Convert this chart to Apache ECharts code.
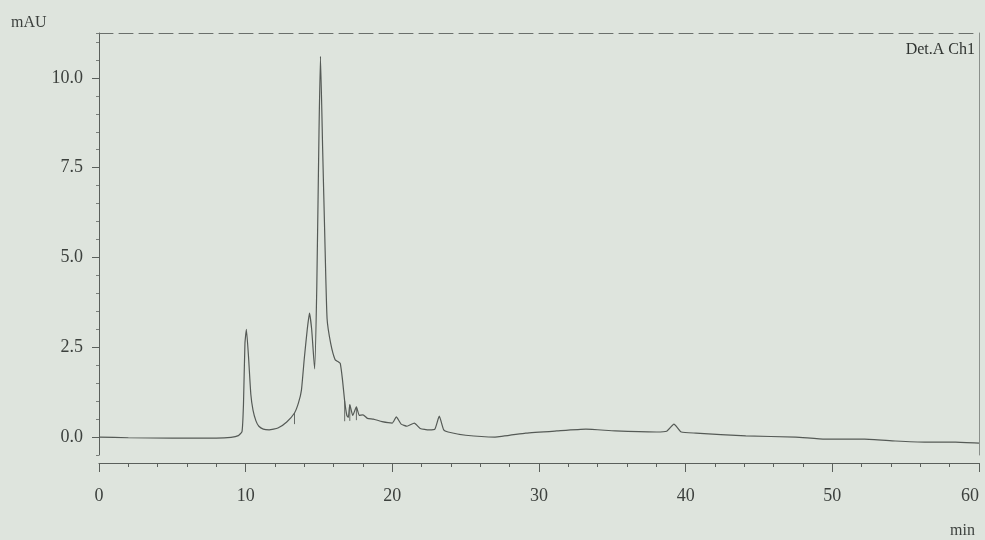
<!DOCTYPE html>
<html>
<head>
<meta charset="utf-8">
<script src="https://cdn.jsdelivr.net/npm/echarts@6/dist/echarts.min.js"></script>
<style>
html,body{margin:0;padding:0;background:#dee4dd;}
#chart{width:985px;height:540px;}
</style>
</head>
<body>
<div id="chart"></div>
<script>
// Retention time (min) and detector signal (mAU)
const times = [0, 2, 5, 8, 9.0, 9.5, 9.75, 9.85, 9.95, 10.05, 10.2, 10.35, 10.5, 10.7, 10.9, 11.2, 11.6, 12.2, 12.8, 13.33, 13.6, 13.8, 14.0, 14.2, 14.35, 14.5, 14.7, 14.85, 15.0, 15.1, 15.25, 15.4, 15.55, 15.8, 16.1, 16.3, 16.45, 16.6, 16.75, 16.9, 17.0, 17.1, 17.3, 17.55, 17.75, 18.0, 18.3, 18.7, 19.3, 20.0, 20.27, 20.6, 21.0, 21.5, 21.9, 22.5, 22.9, 23.2, 23.5, 23.8, 25.0, 27.0, 29.1, 31.2, 33.2, 35.2, 38.0, 38.7, 39.2, 39.7, 40.7, 44.1, 47.5, 49.5, 52.2, 54.3, 56.3, 58.4, 60];
const signal = [0.0, -0.02, -0.03, -0.03, -0.01, 0.04, 0.15, 0.9, 2.6, 3.0, 2.2, 1.2, 0.75, 0.45, 0.3, 0.22, 0.2, 0.25, 0.42, 0.67, 0.95, 1.3, 2.2, 3.0, 3.45, 3.0, 1.9, 4.2, 8.5, 10.6, 8.0, 5.5, 3.3, 2.6, 2.15, 2.1, 2.05, 1.6, 1.0, 0.6, 0.55, 0.9, 0.6, 0.84, 0.6, 0.62, 0.52, 0.5, 0.43, 0.39, 0.56, 0.36, 0.3, 0.39, 0.24, 0.2, 0.22, 0.58, 0.2, 0.14, 0.05, 0.0, 0.11, 0.17, 0.22, 0.17, 0.14, 0.16, 0.36, 0.14, 0.11, 0.03, 0.0, -0.06, -0.06, -0.11, -0.14, -0.14, -0.17];
// Integration drop lines (time, top of line, foot on baseline)
const dropTimes = [13.33, 16.75, 17.1, 17.55];
const dropTops = [0.67, 1.0, 0.9, 0.84];
const dropFeet = [0.36, 0.44, 0.45, 0.47];
const yTickLabels = [0, 2.5, 5, 7.5, 10];
const xTickLabels = [0, 10, 20, 30, 40, 50, 60];

const curve = times.map((t, i) => [t, signal[i]]);
const drops = [];
dropTimes.forEach((t, i) => { drops.push([t, dropFeet[i]], [t, dropTops[i]], [t, null]); });

const ink = '#5a5f5b';
const font = 'Liberation Serif';
const chart = echarts.init(document.getElementById('chart'), null, {renderer: 'canvas'});
chart.setOption({
  backgroundColor: '#dee4dd',
  animation: false,
  grid: {left: 99, right: 6, top: 33, bottom: 85, outerBoundsMode: 'none', containLabel: false},
  title: [
    {text: 'mAU', left: 6, top: 10, textStyle: {fontFamily: font, fontSize: 16, fontWeight: 'normal', color: '#3c403d'}},
    {text: 'Det.A Ch1', right: 5, top: 37, textStyle: {fontFamily: font, fontSize: 16, fontWeight: 'normal', color: '#2f3330'}},
    {text: 'min', right: 5, top: 518, textStyle: {fontFamily: font, fontSize: 16, fontWeight: 'normal', color: '#3c403d'}}
  ],
  xAxis: [
    {type: 'value', min: 0, max: 60, interval: 10, position: 'bottom', offset: 8,
     axisLine: {show: true, onZero: false, lineStyle: {color: ink, width: 1.2}},
     axisTick: {show: true, length: 9, lineStyle: {color: ink}},
     minorTick: {show: true, splitNumber: 5, length: 4, lineStyle: {color: ink}},
     splitLine: {show: false},
     axisLabel: {margin: 24, fontFamily: font, fontSize: 18, color: '#3c403d',
       customValues: xTickLabels, alignMaxLabel: 'right'}},
    {type: 'value', min: 0, max: 60, position: 'top',
     axisLine: {show: true, onZero: false, lineStyle: {color: '#6a6f6b', width: 1, type: [14, 6]}},
     axisTick: {show: false}, axisLabel: {show: false}, splitLine: {show: false}}
  ],
  yAxis: [
    {type: 'value', min: -0.5, max: 11.25, interval: 0.5, position: 'left',
     axisLine: {show: true, onZero: false, lineStyle: {color: ink, width: 1}},
     axisTick: {show: true, length: 3, lineStyle: {color: '#7a7f7b'}},
     splitLine: {show: false},
     axisLabel: {show: false}},
    {type: 'value', min: -0.5, max: 11.25, position: 'left',
     axisLine: {show: false, onZero: false},
     axisTick: {show: true, length: 7, lineStyle: {color: ink}, customValues: yTickLabels},
     splitLine: {show: false},
     axisLabel: {margin: 16, fontFamily: font, fontSize: 18, color: '#3c403d',
       customValues: yTickLabels, formatter: v => v.toFixed(1)}},
    {type: 'value', min: -0.5, max: 11.25, position: 'right',
     axisLine: {show: true, onZero: false, lineStyle: {color: '#8a8f8b', width: 1}},
     axisTick: {show: false}, axisLabel: {show: false}, splitLine: {show: false}}
  ],
  series: [
    {type: 'line', data: curve, showSymbol: false, smooth: 0.15,
     lineStyle: {color: '#555a56', width: 1.2}, z: 3},
    {type: 'line', data: drops, showSymbol: false, connectNulls: false,
     lineStyle: {color: '#666b67', width: 1}, z: 2}
  ]
});
</script>
</body>
</html>
